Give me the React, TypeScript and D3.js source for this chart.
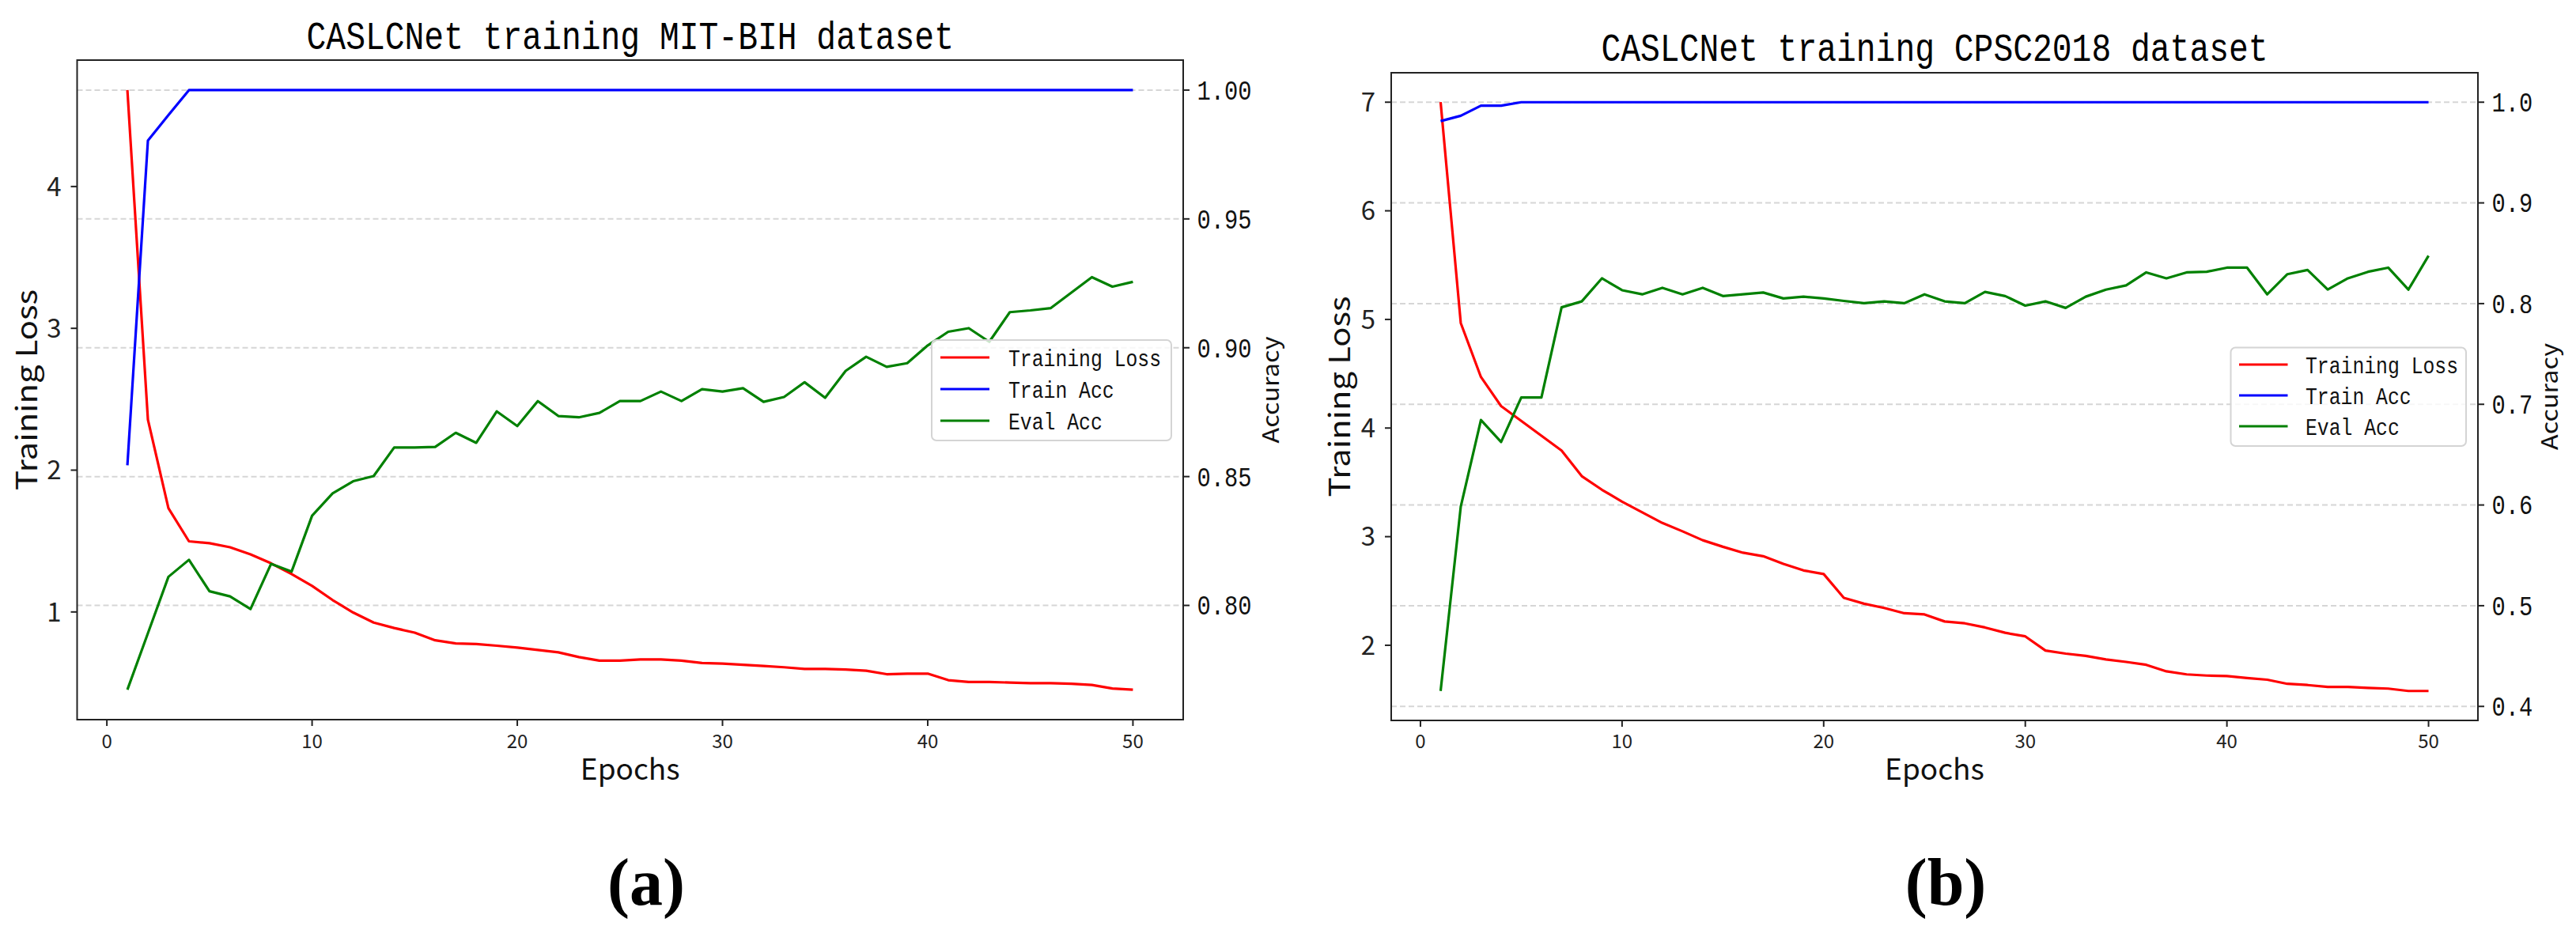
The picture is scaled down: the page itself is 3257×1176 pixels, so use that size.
import React from 'react';
import * as d3 from 'd3';

// ---------- DATA ----------
const seriesNames = ['Training Loss', 'Train Acc', 'Eval Acc'];

const lossA = [4.68, 2.356, 1.732, 1.498, 1.485, 1.456, 1.406, 1.343, 1.268, 1.184,
  1.084, 0.996, 0.925, 0.887, 0.854, 0.80, 0.778, 0.774, 0.762, 0.749,
  0.732, 0.715, 0.682, 0.657, 0.657, 0.665, 0.665, 0.657, 0.64, 0.636,
  0.628, 0.619, 0.61, 0.598, 0.598, 0.594, 0.586, 0.561, 0.565, 0.565,
  0.519, 0.506, 0.506, 0.502, 0.498, 0.498, 0.494, 0.485, 0.46, 0.452];
const trainAccA = [0.8544, 0.9804, 0.9903, 1, 1, 1, 1, 1, 1, 1,
  1, 1, 1, 1, 1, 1, 1, 1, 1, 1,
  1, 1, 1, 1, 1, 1, 1, 1, 1, 1,
  1, 1, 1, 1, 1, 1, 1, 1, 1, 1,
  1, 1, 1, 1, 1, 1, 1, 1, 1, 1];
const evalAccA = [0.7673, 0.7892, 0.8111, 0.8177, 0.8055, 0.8035, 0.7986, 0.8161, 0.8131, 0.8348,
  0.8435, 0.8482, 0.8502, 0.8613, 0.8613, 0.8615, 0.867, 0.8631, 0.8753, 0.8696,
  0.8793, 0.8735, 0.873, 0.8747, 0.8793, 0.8793, 0.883, 0.8793, 0.8839, 0.883,
  0.8843, 0.879, 0.8809, 0.8866, 0.8806, 0.891, 0.8965, 0.8926, 0.894, 0.9009,
  0.9062, 0.9076, 0.9023, 0.9138, 0.9145, 0.9154, 0.9214, 0.9274, 0.9237, 0.9256];

const lossB = [7.0, 4.967, 4.47, 4.202, 4.066, 3.929, 3.792, 3.557, 3.432, 3.322,
  3.224, 3.126, 3.049, 2.967, 2.907, 2.852, 2.82, 2.749, 2.689, 2.656,
  2.437, 2.383, 2.344, 2.295, 2.284, 2.219, 2.202, 2.164, 2.115, 2.082,
  1.951, 1.923, 1.902, 1.869, 1.847, 1.82, 1.76, 1.732, 1.721, 1.716,
  1.699, 1.683, 1.645, 1.634, 1.617, 1.617, 1.607, 1.601, 1.579, 1.579];
const trainAccB = [0.9812, 0.9865, 0.9965, 0.9965, 1, 1, 1, 1, 1, 1,
  1, 1, 1, 1, 1, 1, 1, 1, 1, 1,
  1, 1, 1, 1, 1, 1, 1, 1, 1, 1,
  1, 1, 1, 1, 1, 1, 1, 1, 1, 1,
  1, 1, 1, 1, 1, 1, 1, 1, 1, 1];
const evalAccB = [0.4153, 0.5984, 0.6844, 0.6626, 0.7068, 0.7068, 0.7963, 0.8022, 0.8251, 0.8133,
  0.8092, 0.8157, 0.8092, 0.8157, 0.8075, 0.8092, 0.811, 0.8051, 0.8069, 0.8051,
  0.8027, 0.8004, 0.8022, 0.8004, 0.8092, 0.8022, 0.8004, 0.8116, 0.8075, 0.798,
  0.8022, 0.7957, 0.8069, 0.8139, 0.8181, 0.831, 0.8251, 0.831, 0.8316, 0.8357,
  0.8357, 0.8092, 0.8292, 0.8334, 0.8139, 0.8251, 0.8316, 0.8357, 0.8139, 0.8475];

const titles = ['CASLCNet training MIT-BIH dataset', 'CASLCNet training CPSC2018 dataset'];
const panelLabels = ['(a)', '(b)'];
const xLabel = 'Epochs';
const yLeftLabel = 'Training Loss';
const yRightLabel = 'Accuracy';

// ---------- STYLE ----------
const COLORS = ['#ff0000', '#0000ff', '#008000'];
const SANS = '"Noto Sans CJK SC", "Noto Sans", sans-serif';
const MONO = '"Liberation Mono", "DejaVu Sans Mono", monospace';

type PanelCfg = {
  loss: number[]; trainAcc: number[]; evalAcc: number[];
  title: string; label: string;
  left: number; right: number; top: number; bottom: number;
  accFmt: string; lossTicks: number; accTicks: number;
  titleY: number; yLabelLX: number; yLabelRX: number; labelX: number;
  legend: { x0: number; x1: number; y0: number; y1: number; lineX0: number; lineX1: number; textX: number; rows: number[] };
};

const panels: PanelCfg[] = [
  {
    loss: lossA, trainAcc: trainAccA, evalAcc: evalAccA,
    title: titles[0], label: panelLabels[0],
    left: 97.5, right: 1496, top: 76, bottom: 910,
    accFmt: '.2f', lossTicks: 5, accTicks: 5,
    titleY: 61.5, yLabelLX: 46.5, yLabelRX: 1617, labelX: 817,
    legend: { x0: 1178, x1: 1481, y0: 430, y1: 557, lineX0: 1189, lineX1: 1251, textX: 1275, rows: [452, 492, 532] },
  },
  {
    loss: lossB, trainAcc: trainAccB, evalAcc: evalAccB,
    title: titles[1], label: panelLabels[1],
    left: 1759, right: 3133, top: 92, bottom: 911,
    accFmt: '.1f', lossTicks: 5, accTicks: 6,
    titleY: 77, yLabelLX: 1706.5, yLabelRX: 3234, labelX: 2460,
    legend: { x0: 2820.5, x1: 3118, y0: 439.5, y1: 564, lineX0: 2831, lineX1: 2892.5, textX: 2915, rows: [461, 500, 539] },
  },
];

function padExtent(vals: number[]): [number, number] {
  const [lo, hi] = d3.extent(vals) as [number, number];
  const m = (hi - lo) * 0.05;
  return [lo - m, hi + m];
}

function Panel({ cfg }: { cfg: PanelCfg }) {
  const epochs = cfg.loss.map((_, i) => i + 1);
  const x = d3.scaleLinear().domain(padExtent(epochs)).range([cfg.left, cfg.right]);
  const yL = d3.scaleLinear().domain(padExtent(cfg.loss)).range([cfg.bottom, cfg.top]);
  const yR = d3.scaleLinear().domain(padExtent([...cfg.trainAcc, ...cfg.evalAcc])).range([cfg.bottom, cfg.top]);

  const lineL = d3.line<number>().x((_, i) => x(epochs[i])).y(d => yL(d));
  const lineR = d3.line<number>().x((_, i) => x(epochs[i])).y(d => yR(d));

  const xTicks = x.ticks(5);
  const lTicks = yL.ticks(cfg.lossTicks);
  const rTicks = yR.ticks(cfg.accTicks);
  const fmtR = d3.format(cfg.accFmt);
  const cy = (cfg.top + cfg.bottom) / 2;
  const cx = (cfg.left + cfg.right) / 2;
  const lg = cfg.legend;
  const lw = 3.2;
  const axisColor = '#222';

  return (
    <g>
      {/* title */}
      <text x={cx} y={cfg.titleY} textAnchor="middle" fontFamily={MONO} fontSize={50}
        textLength={cfg.title.length * 24.8} lengthAdjust="spacingAndGlyphs" fill="#000">{cfg.title}</text>

      {/* grid (accuracy axis) */}
      {rTicks.map(t => (
        <line key={'g' + t} x1={cfg.left} x2={cfg.right} y1={yR(t)} y2={yR(t)}
          stroke="#d6d6d6" strokeWidth={2} strokeDasharray="7,4" />
      ))}

      {/* lines */}
      <path d={lineL(cfg.loss) || ''} fill="none" stroke={COLORS[0]} strokeWidth={lw} strokeLinejoin="round" />
      <path d={lineR(cfg.trainAcc) || ''} fill="none" stroke={COLORS[1]} strokeWidth={lw} strokeLinejoin="round" />
      <path d={lineR(cfg.evalAcc) || ''} fill="none" stroke={COLORS[2]} strokeWidth={lw} strokeLinejoin="round" />

      {/* frame */}
      <rect x={cfg.left} y={cfg.top} width={cfg.right - cfg.left} height={cfg.bottom - cfg.top}
        fill="none" stroke={axisColor} strokeWidth={2} />

      {/* x ticks */}
      {xTicks.map(t => (
        <g key={'x' + t}>
          <line x1={x(t)} x2={x(t)} y1={cfg.bottom} y2={cfg.bottom + 8} stroke={axisColor} strokeWidth={2} />
          <text x={x(t)} y={946} textAnchor="middle" fontFamily={SANS} fontSize={24} fill="#222">{t}</text>
        </g>
      ))}
      {/* left ticks */}
      {lTicks.map(t => (
        <g key={'l' + t}>
          <line x1={cfg.left - 8} x2={cfg.left} y1={yL(t)} y2={yL(t)} stroke={axisColor} strokeWidth={2} />
          <text x={cfg.left - 20} y={yL(t)} dy="0.36em" textAnchor="end" fontFamily={SANS} fontSize={33} fill="#222">{t}</text>
        </g>
      ))}
      {/* right ticks */}
      {rTicks.map(t => {
        const s = fmtR(t);
        return (
          <g key={'r' + t}>
            <line x1={cfg.right} x2={cfg.right + 8} y1={yR(t)} y2={yR(t)} stroke={axisColor} strokeWidth={2} />
            <text x={cfg.right + 17.5} y={yR(t)} dy="0.34em" fontFamily={MONO} fontSize={35}
              textLength={s.length * 17.25} lengthAdjust="spacingAndGlyphs" fill="#111">{s}</text>
          </g>
        );
      })}

      {/* axis labels */}
      <text x={cx} y={986} textAnchor="middle" fontFamily={SANS} fontSize={37} fill="#111">{xLabel}</text>
      <text transform={`translate(${cfg.yLabelLX},${cy}) rotate(-90)`} textAnchor="middle" fontFamily={SANS}
        fontSize={37} textLength={254} lengthAdjust="spacingAndGlyphs" fill="#111">{yLeftLabel}</text>
      <text transform={`translate(${cfg.yLabelRX},${cy}) rotate(-90)`} textAnchor="middle" fontFamily={SANS}
        fontSize={29} textLength={135} lengthAdjust="spacingAndGlyphs" fill="#111">{yRightLabel}</text>

      {/* legend */}
      <rect x={lg.x0} y={lg.y0} width={lg.x1 - lg.x0} height={lg.y1 - lg.y0} rx={6}
        fill="#fff" fillOpacity={0.8} stroke="#d4d4d4" strokeWidth={2} />
      {seriesNames.map((name, i) => (
        <g key={name}>
          <line x1={lg.lineX0} x2={lg.lineX1} y1={lg.rows[i]} y2={lg.rows[i]} stroke={COLORS[i]} strokeWidth={lw} />
          <text x={lg.textX} y={lg.rows[i]} dy="0.36em" fontFamily={MONO} fontSize={30}
            textLength={name.length * 14.85} lengthAdjust="spacingAndGlyphs" fill="#111">{name}</text>
        </g>
      ))}

      {/* panel label */}
      <text x={cfg.labelX} y={1144} textAnchor="middle" fontFamily='"Liberation Serif", "DejaVu Serif", serif'
        fontWeight="bold" fontSize={84} fill="#000">{cfg.label}</text>
    </g>
  );
}

export default function App() {
  return (
    <div style={{ position: 'absolute', left: 0, top: 0 }}>
      <svg width={3257} height={1176} viewBox="0 0 3257 1176" style={{ display: 'block', background: '#fff' }}>
        <rect x={0} y={0} width={3257} height={1176} fill="#fff" />
        {panels.map((p, i) => <Panel key={i} cfg={p} />)}
      </svg>
    </div>
  );
}
